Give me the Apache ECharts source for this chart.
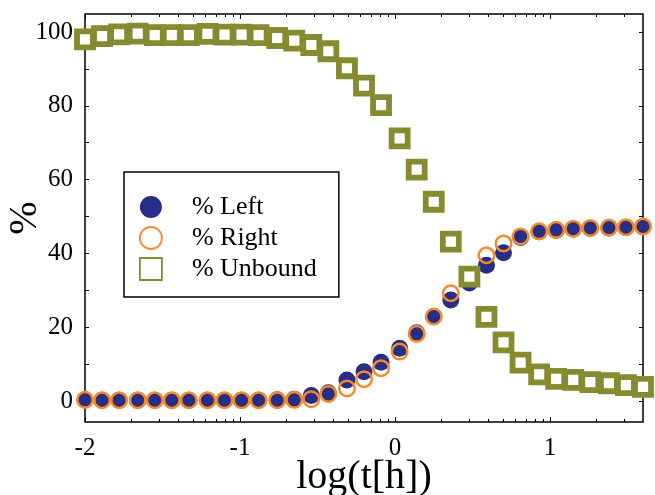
<!DOCTYPE html>
<html><head><meta charset="utf-8">
<script src="https://cdn.jsdelivr.net/npm/echarts@6/dist/echarts.min.js"></script>
<style>html,body{margin:0;padding:0;background:#fff}#c{width:655px;height:495px}</style>
</head><body><div id="c"></div>
<script>
// log10 of time in hours
const logT = [-2.00,-1.89,-1.78,-1.66,-1.55,-1.44,-1.33,-1.21,-1.10,-0.99,-0.88,-0.76,-0.65,-0.54,-0.43,-0.31,-0.20,-0.09,0.03,0.14,0.25,0.36,0.48,0.59,0.70,0.81,0.93,1.04,1.15,1.26,1.38,1.49,1.60];
const pctLeft = [0.3,0.2,0.2,0.2,0.2,0.2,0.2,0.2,0.2,0.2,0.2,0.3,0.5,1.5,2.2,5.7,7.9,10.5,14.3,18.5,22.8,27.4,32.0,36.8,40.2,44.3,45.9,46.3,46.6,46.8,46.9,47.0,47.2];
const pctRight = [0.3,0.2,0.2,0.2,0.2,0.2,0.2,0.2,0.2,0.2,0.2,0.2,0.3,0.5,1.9,3.4,5.9,8.9,13.4,18.2,22.9,29.2,34.0,39.5,42.7,44.6,46.0,46.4,46.7,46.9,47.0,47.1,47.3];
const pctUnbound = [98.0,98.9,99.4,99.6,99.2,99.2,99.2,99.5,99.3,99.3,99.2,98.4,97.7,96.5,94.8,90.2,85.5,80.2,71.2,62.7,54.0,43.2,33.7,22.8,15.9,10.4,7.2,6.0,5.7,5.1,4.8,4.3,3.8];

const seriesNames = ['% Left','% Right','% Unbound'];
const xMajorTicks = [-2,-1,0,1];
const yLabelTicks = [0,20,40,60,80,100];
const yTicks = [0,10,20,30,40,50,60,70,80,90,100];
const xDecades = [-2,-1,0,1];
const xMinorTicks = [];
xDecades.forEach(d => { for (let n = 2; n <= 9; n++) { const v = d + Math.log10(n); if (v < 1.6) xMinorTicks.push(+v.toFixed(4)); } });

const X_MIN = -2, X_MAX = 1.6, Y_MIN = -5.7, Y_MAX = 104.9;
const FONT = 'Liberation Serif';
const C_LEFT = '#272e86', C_RIGHT = '#f6892a', C_UNB = '#878a2e';

const chart = echarts.init(document.getElementById('c'), null, {renderer: 'canvas'});

function xAxis(pos, ticks, len, label, name) {
  return {
    type: 'value', position: pos, min: X_MIN, max: X_MAX,
    axisLine: {show: false, onZero: false}, splitLine: {show: false},
    axisTick: {show: true, inside: true, length: len, customValues: ticks, lineStyle: {color: '#000', width: 1}},
    axisLabel: {show: label, customValues: xMajorTicks, margin: 14, color: '#000', fontFamily: FONT, fontSize: 25,
      formatter: v => String(v)},
    name: name || '', nameLocation: 'middle', nameGap: 35, nameMoveOverlap: false,
    nameTextStyle: {fontFamily: FONT, fontSize: 40, color: '#000'}
  };
}
function yAxis(pos, label, name) {
  return {
    type: 'value', position: pos, min: Y_MIN, max: Y_MAX,
    axisLine: {show: false, onZero: false}, splitLine: {show: false},
    axisTick: {show: true, inside: true, length: 4, customValues: yTicks, lineStyle: {color: '#000', width: 1}},
    axisLabel: {show: label, customValues: yLabelTicks, margin: 12, color: '#000', fontFamily: FONT, fontSize: 25},
    name: name || '', nameLocation: 'middle', nameGap: 40, nameRotate: 90, nameMoveOverlap: false,
    nameTextStyle: {fontFamily: FONT, fontSize: 40, color: '#000'}
  };
}

const option = {
  animation: false,
  backgroundColor: '#fff',
  grid: {left: 85, right: 12, top: 14, bottom: 73, show: true, borderColor: '#000', borderWidth: 1.5,
    backgroundColor: 'transparent', containLabel: false, outerBoundsMode: 'none'},
  xAxis: [
    xAxis('bottom', xMajorTicks, 5, true, 'log(t[h])'),
    xAxis('bottom', xMinorTicks, 3, false),
    xAxis('top', xMajorTicks, 5, false),
    xAxis('top', xMinorTicks, 3, false)
  ],
  yAxis: [
    yAxis('left', true, '%'),
    yAxis('right', false)
  ],
  legend: {
    orient: 'vertical', left: 124, top: 172,
    padding: [22, 22, 15, 15], itemGap: 5, itemWidth: 22, itemHeight: 22,
    borderColor: '#000', borderWidth: 1.5, backgroundColor: '#fff',
    textStyle: {fontFamily: FONT, fontSize: 26, color: '#000', padding: [0, 0, 0, 25]},
    data: [
      {name: seriesNames[0], icon: 'circle', itemStyle: {color: C_LEFT, borderWidth: 0}},
      {name: seriesNames[1], icon: 'circle', itemStyle: {color: 'rgba(255,255,255,0)', borderColor: C_RIGHT, borderWidth: 1.8}},
      {name: seriesNames[2], icon: 'rect', itemStyle: {color: 'rgba(255,255,255,0)', borderColor: C_UNB, borderWidth: 1.8}}
    ]
  },
  series: [
    {name: seriesNames[0], type: 'scatter', symbol: 'circle', symbolSize: 17, z: 2,
      itemStyle: {color: C_LEFT, opacity: 1},
      data: logT.map((x, i) => [x, pctLeft[i]])},
    {name: seriesNames[1], type: 'scatter', symbol: 'circle', symbolSize: 15.5, z: 3,
      itemStyle: {color: 'rgba(255,255,255,0)', borderColor: C_RIGHT, borderWidth: 2.5, opacity: 1},
      data: logT.map((x, i) => [x, pctRight[i]])},
    {name: seriesNames[2], type: 'scatter', symbol: 'rect', symbolSize: 16, z: 4,
      itemStyle: {color: '#fff', borderColor: C_UNB, borderWidth: 5.8, opacity: 1},
      data: logT.map((x, i) => [x, pctUnbound[i]])}
  ]
};
chart.setOption(option);
</script>
</body></html>
